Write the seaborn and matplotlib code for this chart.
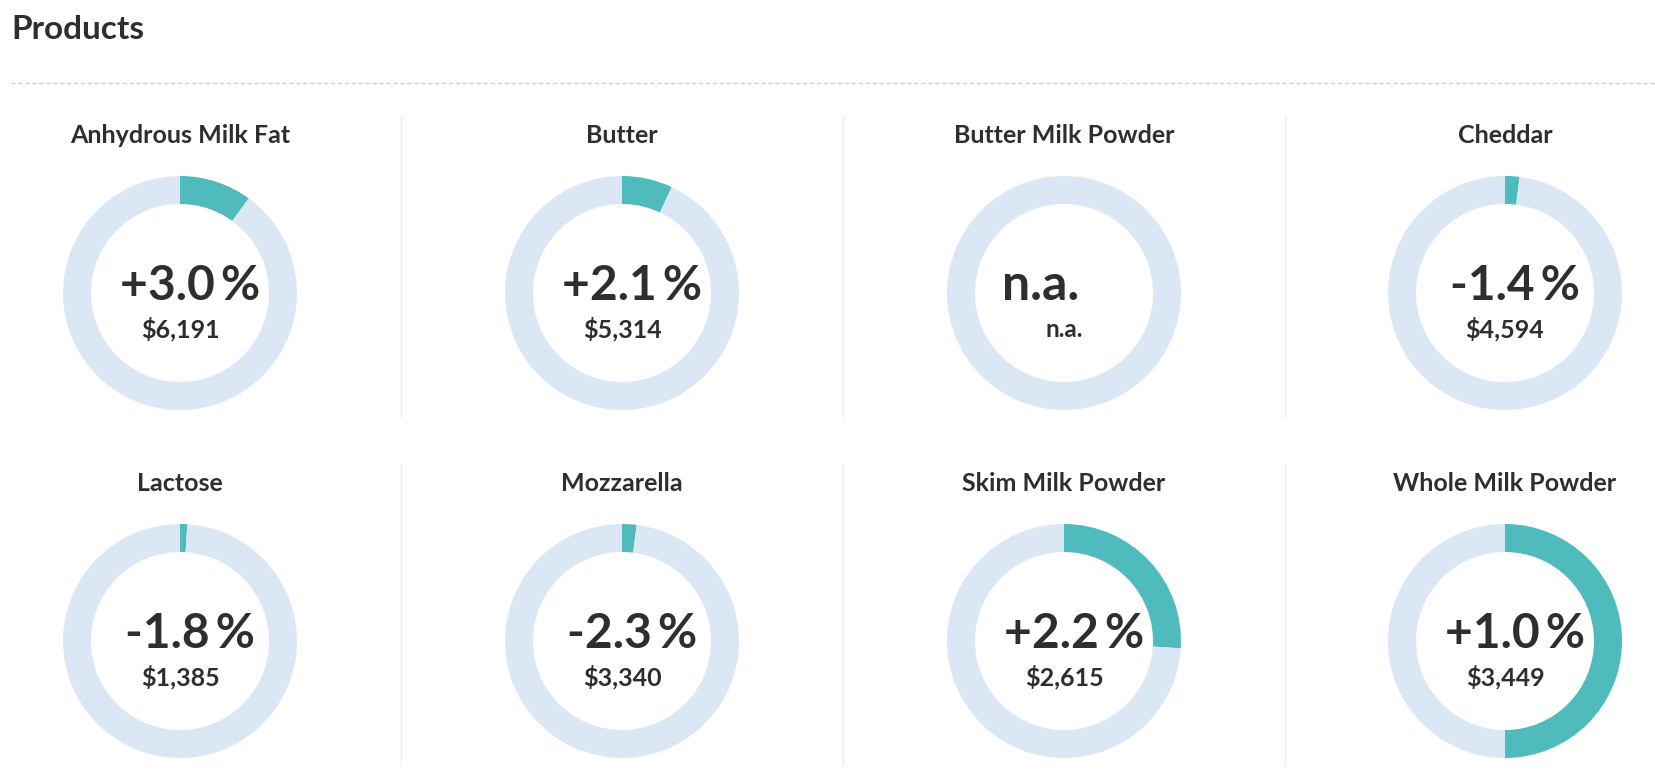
import matplotlib
matplotlib.use("Agg")
import matplotlib.pyplot as plt
import seaborn as sns

# values
products = ["Anhydrous Milk Fat", "Butter", "Butter Milk Powder", "Cheddar",
            "Lactose", "Mozzarella", "Skim Milk Powder", "Whole Milk Powder"]
change_pct = [3.0, 2.1, None, -1.4, -1.8, -2.3, 2.2, 1.0]
price_usd = [6191, 5314, None, 4594, 1385, 3340, 2615, 3449]
ring_share = [0.10, 0.07, 0.0, 0.02, 0.01, 0.02, 0.26, 0.50]

sns.set_theme(style="white")
plt.rcParams["font.family"] = ["Lato", "DejaVu Sans"]

W, H = 1655, 782
TEAL = "#4fbbbd"
PALE = "#dce7f5"
INK = "#2e2e2e"

fig = plt.figure(figsize=(W / 100, H / 100), dpi=100)
fig.patch.set_facecolor("white")

# background axes in pixel units for the rules
bg = fig.add_axes([0, 0, 1, 1])
bg.set_xlim(0, W)
bg.set_ylim(H, 0)
bg.axis("off")

bg.text(11, 39, "Products", fontsize=24, fontweight="bold", color=INK,
        ha="left", va="baseline")
bg.plot([11, W], [83, 83], color="#cccccc", lw=1, ls=(0, (3, 2)))

col_x = [180, 622, 1064, 1505]
row_y = [293, 641]
for sx in [401, 843, 1285]:
    bg.plot([sx, sx], [115, 417], color="#eeeeee", lw=1)
    bg.plot([sx, sx], [464, 765], color="#eeeeee", lw=1)

R = 117
PAD = 122
for i, name in enumerate(products):
    cx = col_x[i % 4]
    cy = row_y[i // 4]
    ax = fig.add_axes([(cx - PAD) / W, 1 - (cy + PAD) / H, 2 * PAD / W, 2 * PAD / H])
    share = ring_share[i]
    vals = [share, 1 - share] if share > 0 else [1]
    cols = [TEAL, PALE] if share > 0 else [PALE]
    ax.pie(vals, colors=cols, startangle=90, counterclock=False, radius=1,
           wedgeprops=dict(width=1 - 89 / R, linewidth=0))
    lim = PAD / R
    ax.set_xlim(-lim, lim)
    ax.set_ylim(-lim, lim)
    ax.set_aspect("equal")
    ax.axis("off")

    bg.text(cx, cy - 150, name, fontsize=18, fontweight="bold", color=INK,
            ha="center", va="baseline")
    if change_pct[i] is None:
        bg.text(cx - 23, cy + 7, "n.a.", fontsize=36, fontweight="bold",
                color=INK, ha="center", va="baseline")
        bg.text(cx, cy + 44, "n.a.", fontsize=17.5, fontweight="bold",
                color=INK, ha="center", va="baseline")
    else:
        bg.text(cx + 10, cy + 7, f"{change_pct[i]:+.1f}\u2009%", fontsize=34.5,
                fontweight="bold", color=INK, ha="center", va="baseline")
        bg.text(cx, cy + 44, f"${price_usd[i]:,}", fontsize=18,
                fontweight="bold", color=INK, ha="center", va="baseline")

fig.savefig("out.png", dpi=100, facecolor="white")
